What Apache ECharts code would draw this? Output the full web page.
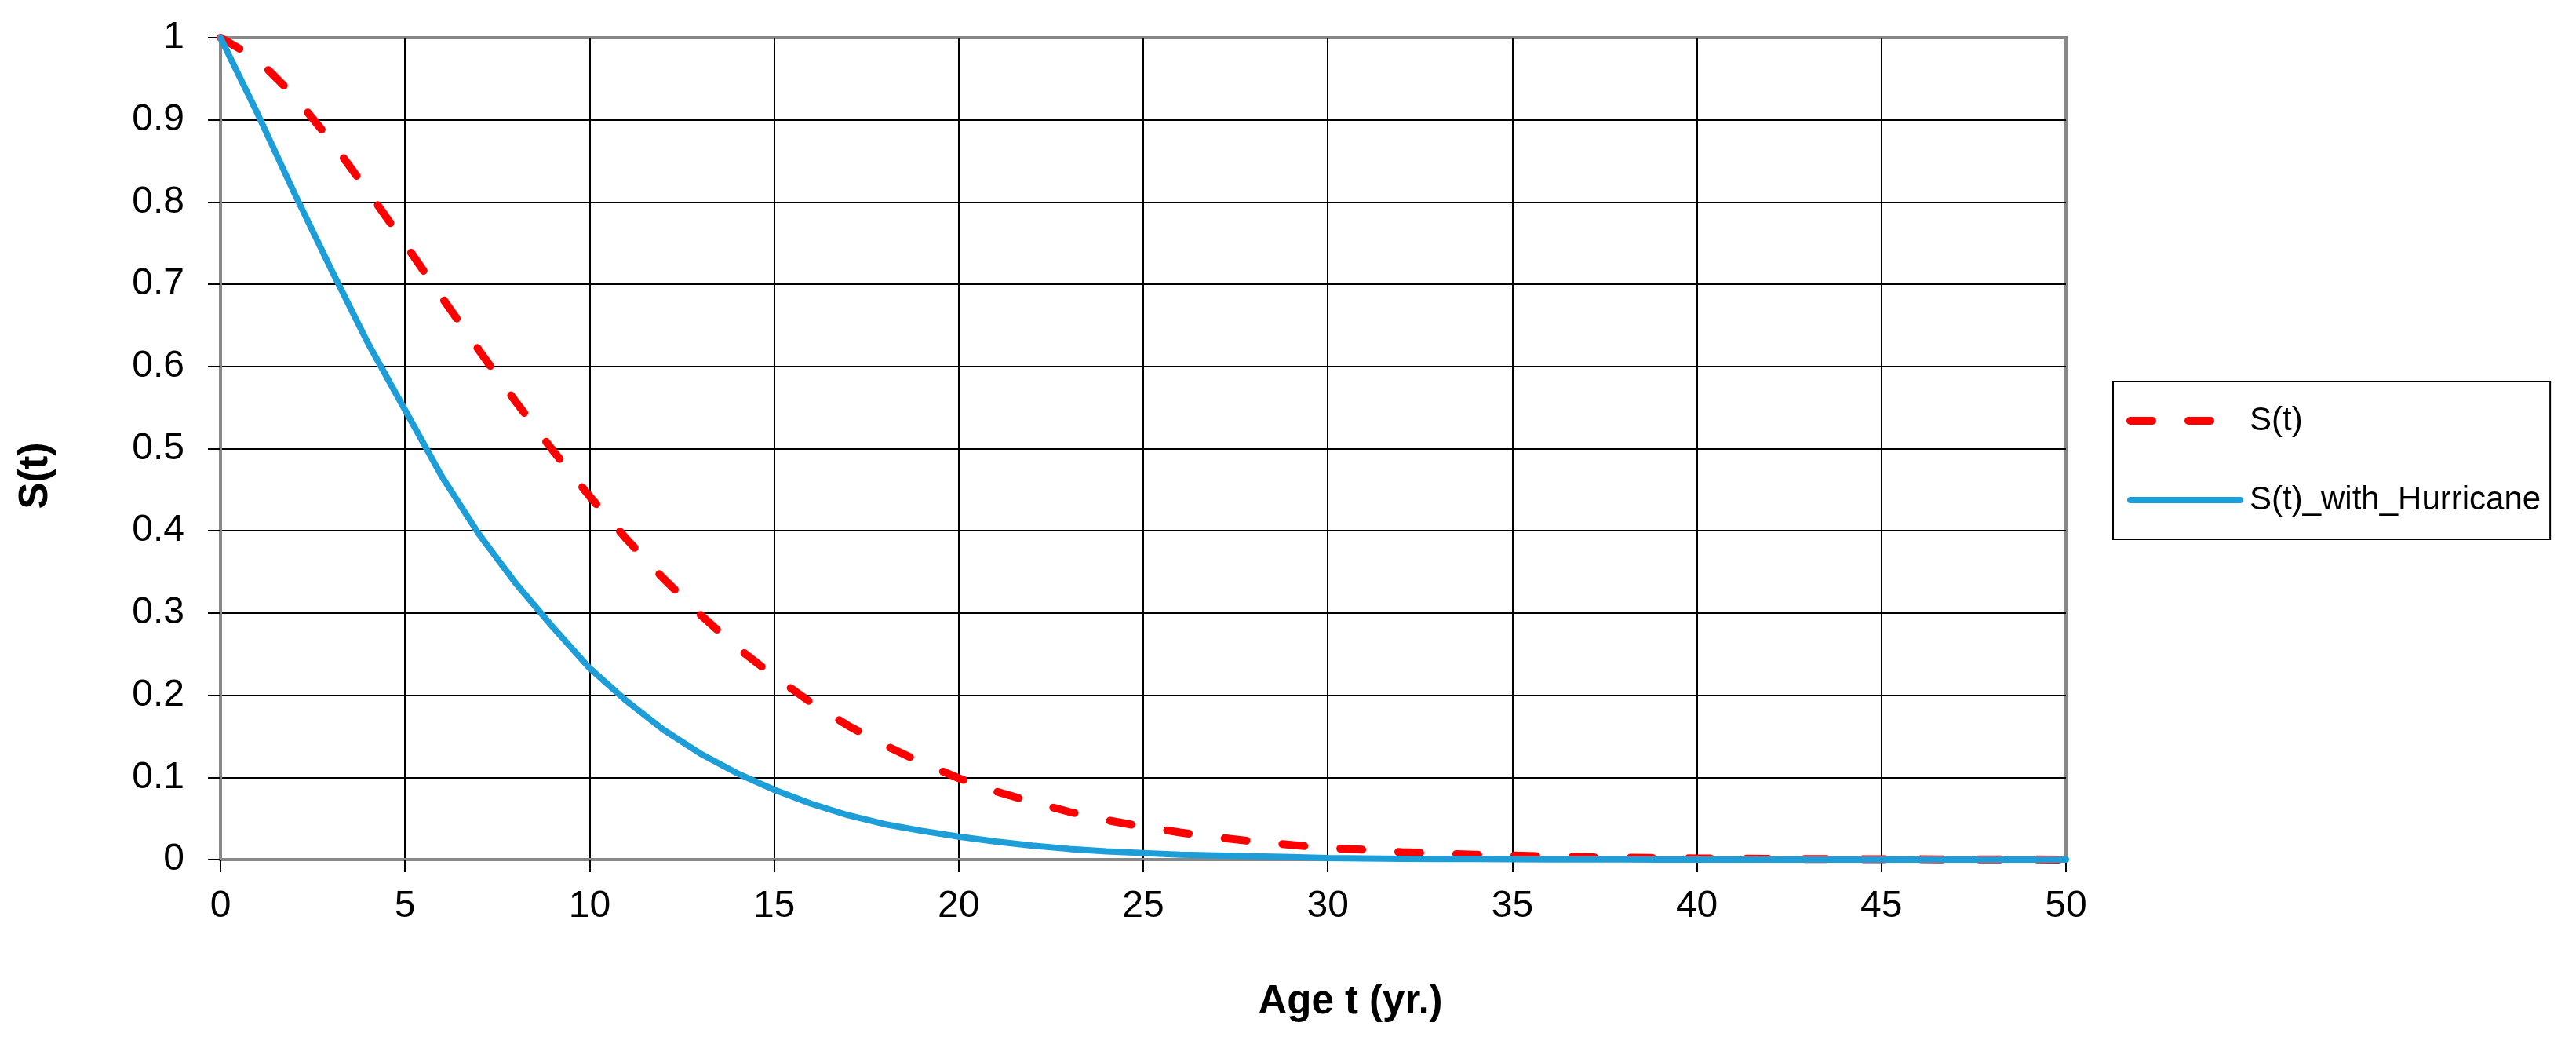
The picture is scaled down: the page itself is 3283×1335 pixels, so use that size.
<!DOCTYPE html>
<html>
<head>
<meta charset="utf-8">
<script src="https://cdn.jsdelivr.net/npm/echarts@6/dist/echarts.min.js"></script>
<style>
html,body{margin:0;padding:0;background:#fff;}
#chart{width:3283px;height:1335px;}
</style>
</head>
<body>
<div id="chart"></div>
<script>
const ages = [0,1,2,3,4,5,6,7,8,9,10,11,12,13,14,15,16,17,18,19,20,21,22,23,24,25,26,27,28,29,30,31,32,33,34,35,36,37,38,39,40,41,42,43,44,45,46,47,48,49,50];
const sValues = [1.000,0.974,0.929,0.874,0.813,0.749,0.684,0.620,0.557,0.498,0.442,0.390,0.342,0.298,0.258,0.223,0.191,0.163,0.139,0.118,0.099,0.083,0.070,0.058,0.048,0.040,0.033,0.027,0.022,0.018,0.014,0.012,0.009,0.0075,0.006,0.005,0.004,0.003,0.0025,0.002,0.0015,0.0012,0.001,0.0008,0.0006,0.0005,0.0004,0.0003,0.0002,0.0002,0.0001];
const sHurricane = [1.000,0.908,0.811,0.718,0.628,0.547,0.466,0.396,0.336,0.283,0.233,0.193,0.158,0.129,0.105,0.085,0.068,0.054,0.043,0.035,0.028,0.022,0.017,0.013,0.010,0.008,0.006,0.005,0.004,0.003,0.002,0.0015,0.001,0.0008,0.0006,0.0004,0.0003,0.0002,0.0002,0.0001,0.0001,0.0001,0,0,0,0,0,0,0,0,0];
const seriesNames = ['S(t)', 'S(t)_with_Hurricane'];
const xTitle = 'Age t (yr.)';
const yTitle = 'S(t)';

const FONT = '"Liberation Sans", Arial, sans-serif';
const RED = '#ff0000';
const BLUE = '#1e9ed9';
const redLine = { color: RED, width: 10, type: [28, 46], cap: 'round' };
const blueLine = { color: BLUE, width: 8, type: 'solid', cap: 'round' };

const chart = echarts.init(document.getElementById('chart'));
const pairs = (ys) => ages.map((a, i) => [a, ys[i]]);

chart.setOption({
  animation: false,
  backgroundColor: '#fff',
  grid: {
    left: 281, right: 650, top: 48, bottom: 240,
    show: true, borderColor: '#888', borderWidth: 4, backgroundColor: 'transparent'
  },
  xAxis: {
    type: 'value', min: 0, max: 50, interval: 5,
    axisLine: { show: true, onZero: false, lineStyle: { color: '#888', width: 4 } },
    axisTick: { show: true, inside: false, length: 16, lineStyle: { color: '#000', width: 2 } },
    axisLabel: { color: '#000', fontSize: 48, fontFamily: FONT, margin: 36 },
    splitLine: { show: true, showMinLine: false, showMaxLine: false, lineStyle: { color: '#000', width: 2 } }
  },
  yAxis: {
    type: 'value', min: 0, max: 1, interval: 0.1,
    axisLine: { show: true, lineStyle: { color: '#888', width: 4 } },
    axisTick: { show: true, inside: false, length: 16, lineStyle: { color: '#000', width: 2 } },
    axisLabel: { color: '#000', fontSize: 48, fontFamily: FONT, margin: 46 },
    splitLine: { show: true, showMinLine: false, showMaxLine: false, lineStyle: { color: '#000', width: 2 } }
  },
  legend: {
    orient: 'vertical',
    left: 2693, top: 486,
    padding: [29, 12, 29, 17],
    itemGap: 59,
    itemWidth: 140, itemHeight: 12,
    borderColor: '#000', borderWidth: 2,
    textStyle: { color: '#000', fontSize: 42, fontFamily: FONT, padding: [0,0,0,7] },
    itemStyle: { opacity: 0 },
    data: [
      { name: seriesNames[0], lineStyle: redLine, itemStyle: { opacity: 0 } },
      { name: seriesNames[1], lineStyle: blueLine, itemStyle: { opacity: 0 } }
    ]
  },
  graphic: [
    { type: 'text', x: 46, y: 606, rotation: Math.PI / 2,
      style: { text: yTitle, fill: '#000', font: 'bold 51px ' + FONT, align: 'center', verticalAlign: 'middle' } },
    { type: 'text', x: 1721, y: 1277,
      style: { text: xTitle, fill: '#000', font: 'bold 51px ' + FONT, align: 'center', verticalAlign: 'middle' } }
  ],
  series: [
    {
      name: seriesNames[0], type: 'line', data: pairs(sValues),
      symbol: 'none', smooth: false,
      lineStyle: redLine,
      itemStyle: { color: RED }
    },
    {
      name: seriesNames[1], type: 'line', data: pairs(sHurricane),
      symbol: 'none', smooth: false,
      lineStyle: blueLine,
      itemStyle: { color: BLUE }
    }
  ]
});
</script>
</body>
</html>
